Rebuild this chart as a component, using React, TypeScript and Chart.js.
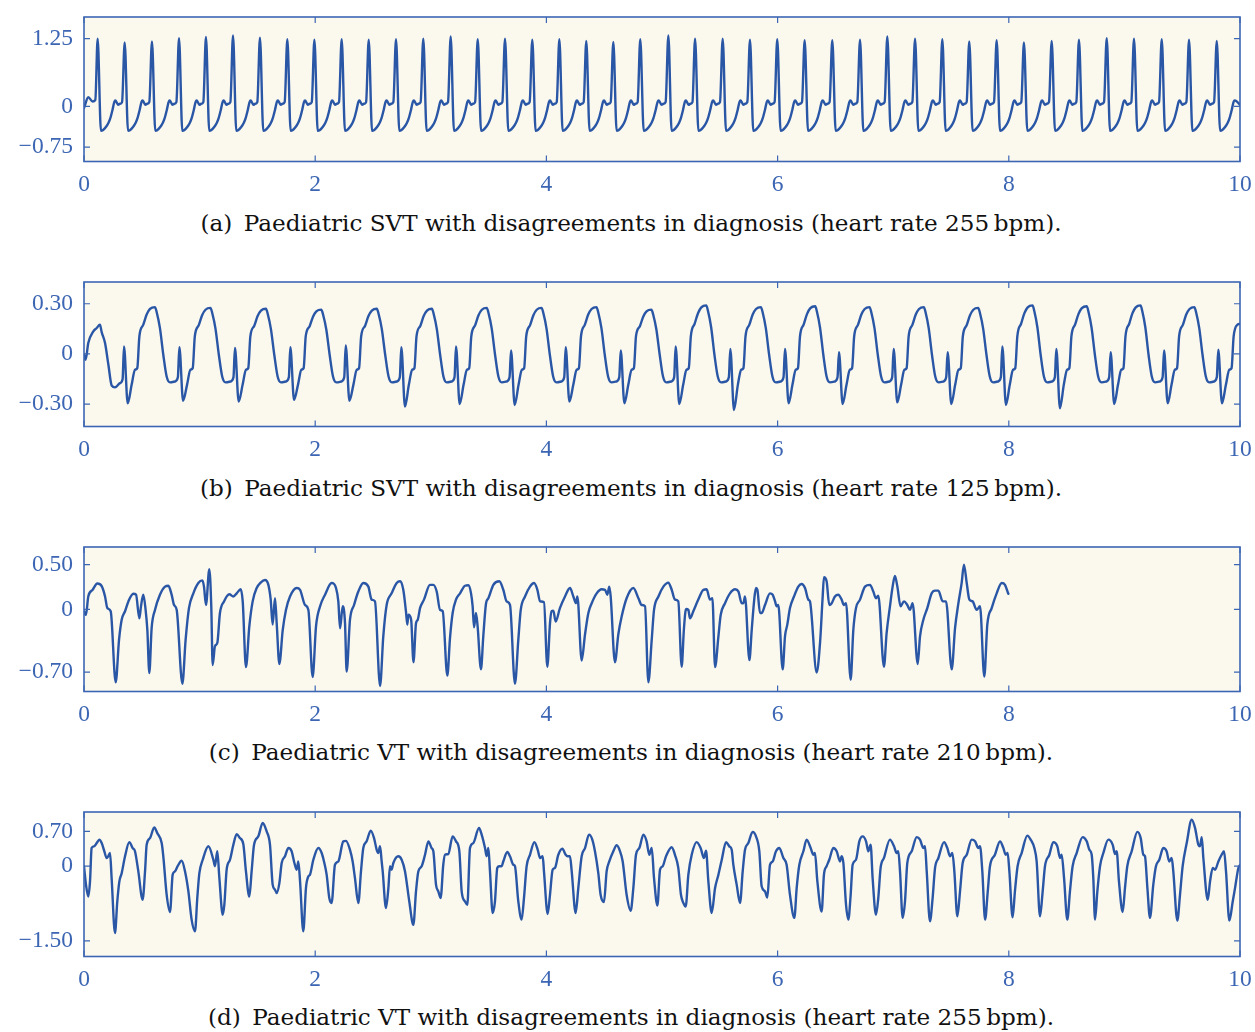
import React, { useEffect, useRef } from "react";
import { Chart, registerables } from "chart.js";
Chart.register(...registerables);

type Pt = [number, number];

const LINE_COLOR = "#2a56a6";
const AXIS_COLOR = "#3c66b3";
const PLOT_BG = "#fbf8ee";

// ---------- Panel (a): paediatric SVT, 255 bpm ----------
const A_SPIKE_T = [0.118, 0.352, 0.588, 0.822, 1.055, 1.289, 1.522, 1.759, 1.993, 2.229, 2.463, 2.699, 2.935, 3.172, 3.406, 3.642, 3.878, 4.112, 4.345, 4.579, 4.812, 5.055, 5.286, 5.525, 5.761, 5.997, 6.234, 6.473, 6.713, 6.949, 7.189, 7.425, 7.658, 7.895, 8.131, 8.371, 8.607, 8.847, 9.083, 9.323, 9.559, 9.799];
const A_SPIKE_Y = [1.25, 1.18, 1.2, 1.26, 1.28, 1.31, 1.27, 1.24, 1.23, 1.24, 1.23, 1.24, 1.25, 1.29, 1.24, 1.25, 1.23, 1.24, 1.21, 1.19, 1.24, 1.31, 1.25, 1.25, 1.23, 1.24, 1.22, 1.22, 1.23, 1.29, 1.25, 1.24, 1.2, 1.22, 1.18, 1.21, 1.23, 1.26, 1.25, 1.24, 1.23, 1.21];
const A_LEAD: Pt[] = [[0, -0.03], [0.037, 0.17], [0.075, 0.09], [0.098, 0.12]];
const A_BEAT: Pt[] = [[0.029, -0.45], [0.045, -0.44], [0.072, -0.38], [0.095, -0.3], [0.11, -0.22], [0.13, -0.06], [0.145, 0.08], [0.155, 0.11], [0.167, 0.07], [0.179, 0.03], [0.195, 0.05], [0.213, 0.08]];
const A_TAIL: Pt[] = [[9.957, 0.11], [10, 0.03]];
const A_PERIOD = 0.236;
const A_Y_TICKS = [-0.75, 0, 1.25];
const A_Y_LABELS = ["\u22120.75", "0", "1.25"];

// ---------- Panel (b): paediatric SVT, 125 bpm ----------
const B_SPIKE_T = [0.346, 0.825, 1.306, 1.785, 2.264, 2.745, 3.218, 3.694, 4.167, 4.643, 5.118, 5.591, 6.064, 6.531, 7.004, 7.471, 7.944, 8.411, 8.881, 9.343, 9.812];
const B_SPIKE_Y = [0.045, 0.04, 0.035, 0.04, 0.05, 0.04, 0.045, 0.02, 0.04, 0.02, 0.045, 0.03, 0.03, 0.01, 0.03, 0.01, 0.045, 0.03, 0.01, 0.02, 0.025];
const B_DIP = [-0.295, -0.28, -0.285, -0.275, -0.28, -0.315, -0.3, -0.305, -0.285, -0.295, -0.3, -0.335, -0.295, -0.3, -0.29, -0.3, -0.305, -0.325, -0.3, -0.295, -0.295];
const B_HUMP = [0.28, 0.275, 0.27, 0.265, 0.27, 0.27, 0.275, 0.275, 0.28, 0.265, 0.29, 0.28, 0.285, 0.28, 0.28, 0.275, 0.29, 0.285, 0.29, 0.28, 0.28];
const B_LEAD: Pt[] = [[0, -0.005], [0.014, -0.035], [0.037, 0.065], [0.081, 0.135], [0.11, 0.155], [0.138, 0.175], [0.153, 0.13], [0.182, 0.065], [0.211, -0.065], [0.24, -0.19], [0.268, -0.2], [0.311, -0.175], [0.334, -0.15]];
// [dt, value, kind]: kind 0 = absolute value, 1 = fraction of dip depth, 2 = fraction of hump height
const B_BEAT: [number, number, number][] = [[0.032, 1, 1], [0.066, -0.185, 0], [0.095, -0.095, 0], [0.115, -0.085, 0], [0.133, 0.105, 0], [0.167, 0.625, 2], [0.196, 0.84, 2], [0.225, 0.96, 2], [0.268, 1, 2], [0.283, 0.89, 2], [0.311, 0.55, 2], [0.34, -0.005, 0], [0.369, -0.135, 0], [0.398, -0.17, 0], [0.441, -0.165, 0], [0.466, -0.14, 0]];
const B_TAIL: Pt[] = [[10, 0.18]];
const B_PERIOD = 0.479;
const B_Y_TICKS = [-0.3, 0, 0.3];
const B_Y_LABELS = ["\u22120.30", "0", "0.30"];

// ---------- Panel (c): paediatric VT, 210 bpm ----------
const C_POINTS: Pt[] = [
  [0, -0.02], [0.017, -0.06], [0.037, 0.145], [0.075, 0.22], [0.115, 0.29], [0.153, 0.26], [0.182, 0.145], [0.202, 0.015], [0.231, -0.02], [0.274, -0.815], [0.303, -0.34], [0.326, -0.115], [0.355, -0.02], [0.384, 0.09], [0.427, 0.175], [0.45, 0.165], [0.479, -0.1], [0.493, 0.035], [0.513, 0.165], [0.533, -0.005], [0.548, -0.23], [0.565, -0.71], [0.585, -0.21], [0.614, -0.005], [0.657, 0.165], [0.701, 0.255], [0.73, 0.265], [0.758, 0.165], [0.779, 0.05], [0.802, -0.005], [0.851, -0.83], [0.879, -0.34], [0.908, 0.015], [0.946, 0.18], [0.989, 0.295], [1.024, 0.325], [1.038, 0.255], [1.055, 0.05], [1.084, 0.45], [1.101, 0.035], [1.113, -0.62], [1.133, -0.41], [1.153, -0.375], [1.176, -0.04], [1.211, 0.09], [1.257, 0.17], [1.292, 0.145], [1.321, 0.18], [1.355, 0.225], [1.373, 0.09], [1.401, -0.645], [1.43, -0.19], [1.459, 0.09], [1.494, 0.24], [1.528, 0.3], [1.566, 0.33], [1.595, 0.275], [1.615, 0.11], [1.632, -0.17], [1.652, 0.125], [1.667, -0.155], [1.69, -0.61], [1.719, -0.23], [1.747, -0.005], [1.782, 0.145], [1.84, 0.24], [1.869, 0.22], [1.912, 0.05], [1.941, -0.005], [1.978, -0.755], [2.007, -0.19], [2.042, 0.035], [2.085, 0.165], [2.142, 0.295], [2.18, 0.24], [2.2, 0.09], [2.215, -0.21], [2.238, 0.035], [2.258, -0.155], [2.272, -0.695], [2.301, -0.115], [2.336, 0.05], [2.373, 0.2], [2.416, 0.295], [2.46, 0.255], [2.488, 0.11], [2.517, 0.09], [2.561, -0.855], [2.589, -0.3], [2.618, 0.05], [2.661, 0.18], [2.705, 0.295], [2.734, 0.315], [2.762, 0.22], [2.785, -0.02], [2.797, -0.17],
  [2.806, -0.06], [2.83, -0.115], [2.85, -0.59], [2.872, -0.155], [2.887, -0.115], [2.907, 0.015], [2.941, 0.11], [2.993, 0.275], [3.022, 0.275], [3.051, 0.2], [3.08, -0.005], [3.103, -0.02], [3.143, -0.74], [3.166, -0.32], [3.189, -0.04], [3.218, 0.11], [3.253, 0.18], [3.296, 0.265], [3.325, 0.27], [3.348, 0.18], [3.362, 0.035], [3.374, -0.2], [3.391, -0.04], [3.405, -0.19], [3.434, -0.67], [3.454, -0.3], [3.478, 0.07], [3.498, 0.125], [3.541, 0.275], [3.593, 0.315], [3.627, 0.22], [3.656, 0.09], [3.685, 0.05], [3.728, -0.83], [3.757, -0.34], [3.778, -0.005], [3.815, 0.145], [3.858, 0.255], [3.893, 0.295], [3.922, 0.22], [3.945, 0.09], [3.979, 0.08], [4.008, -0.64], [4.031, -0.155], [4.045, -0.02], [4.06, -0.015], [4.08, -0.135], [4.117, 0.015], [4.161, 0.145], [4.204, 0.24], [4.233, 0.145], [4.256, 0.07], [4.268, 0.145], [4.305, -0.57], [4.334, -0.28], [4.363, -0.04], [4.392, 0.07], [4.435, 0.18], [4.478, 0.225], [4.507, 0.22], [4.527, 0.165], [4.544, 0.255], [4.556, 0.145], [4.593, -0.59], [4.622, -0.28], [4.651, -0.08], [4.694, 0.125], [4.752, 0.24], [4.796, 0.125], [4.824, 0.05], [4.853, 0.035], [4.882, -0.815], [4.911, -0.34], [4.931, -0.005], [4.969, 0.145], [5.012, 0.255], [5.055, 0.3], [5.084, 0.22], [5.112, 0.11], [5.141, 0.09], [5.17, -0.64], [5.19, -0.21], [5.208, 0.005], [5.228, -0.005], [5.242, -0.1], [5.271, -0.02], [5.314, 0.11], [5.358, 0.22], [5.386, 0.225], [5.415, 0.11], [5.436, 0.125], [5.459, -0.645], [5.488, -0.3], [5.508, -0.06], [5.545, 0.07], [5.588, 0.18], [5.632, 0.225], [5.661, 0.2], [5.69, 0.07], [5.704, 0.07], [5.718, 0.145], [5.756, -0.565], [5.776, -0.23], [5.799, 0.125], [5.813, 0.24], [5.825, 0.22], [5.848, -0.04], [5.862, -0.04], [5.891, 0.05], [5.934, 0.18], [5.957, 0.165], [5.978, 0.09], [5.992, 0.035], [6.006, 0.05], [6.044, -0.67], [6.064, -0.3], [6.084, -0.17], [6.107, 0.015], [6.142, 0.145], [6.179, 0.255], [6.208, 0.285], [6.237, 0.24], [6.266, 0.11], [6.28, 0.09], [6.338, -0.705],
  [6.367, -0.375], [6.39, 0.145], [6.401, 0.36], [6.424, 0.315], [6.447, 0.05], [6.468, 0.07], [6.496, 0.145], [6.525, 0.165], [6.554, 0.11], [6.574, 0.05], [6.592, 0.07], [6.632, -0.785], [6.655, -0.23], [6.678, 0.015], [6.713, 0.11], [6.756, 0.255], [6.799, 0.275], [6.828, 0.2], [6.851, 0.125], [6.871, 0.155], [6.92, -0.64], [6.943, -0.265], [6.972, 0.035], [6.995, 0.255], [7.015, 0.375], [7.036, 0.255], [7.064, 0.035], [7.093, 0.09], [7.122, 0.05], [7.145, -0.005], [7.168, 0.07], [7.212, -0.61], [7.232, -0.3], [7.261, -0.115], [7.295, 0.015], [7.333, 0.18], [7.362, 0.21], [7.391, 0.21], [7.428, 0.09], [7.457, 0.09], [7.506, -0.67], [7.535, -0.21], [7.564, 0.07], [7.592, 0.295], [7.612, 0.5], [7.636, 0.295], [7.659, 0.11], [7.687, 0.09], [7.722, -0.005], [7.751, 0.035], [7.788, -0.75], [7.814, -0.17], [7.852, 0.015], [7.895, 0.18], [7.939, 0.295], [7.967, 0.275], [7.996, 0.175],
];
const C_Y_TICKS = [-0.7, 0, 0.5];
const C_Y_LABELS = ["\u22120.70", "0", "0.50"];

// ---------- Panel (d): paediatric VT, 255 bpm ----------
const D_POINTS: Pt[] = [
  [0, 0], [0.017, -0.37], [0.037, -0.61], [0.052, -0.305], [0.066, 0.365], [0.087, 0.4], [0.11, 0.465], [0.133, 0.535], [0.153, 0.465], [0.176, 0.3], [0.196, 0.165], [0.21, 0.2], [0.225, 0.265], [0.239, -0.24], [0.268, -1.345], [0.288, -0.71], [0.306, -0.305], [0.326, -0.14], [0.355, 0.2], [0.392, 0.485], [0.421, 0.365], [0.441, 0.3], [0.47, -0.105], [0.507, -0.675], [0.528, -0.105], [0.542, 0.43], [0.571, 0.565], [0.608, 0.78], [0.634, 0.665], [0.672, 0.465], [0.686, 0.2], [0.715, -0.57], [0.744, -0.92], [0.767, -0.17], [0.787, -0.105], [0.81, 0], [0.845, 0.11], [0.874, -0.105], [0.903, -0.505], [0.931, -1.075], [0.96, -1.31], [0.98, -0.64], [0.998, -0.14], [1.027, 0.13], [1.076, 0.4], [1.119, 0.13], [1.133, 0], [1.153, 0.3], [1.171, -0.24], [1.2, -0.975], [1.214, -0.775], [1.234, -0.07], [1.263, 0.13], [1.292, 0.43], [1.321, 0.645], [1.349, 0.565], [1.378, 0.445], [1.401, -0.105], [1.43, -0.61], [1.45, -0.105], [1.471, 0.43], [1.508, 0.6], [1.546, 0.87], [1.58, 0.7], [1.609, 0.43], [1.632, -0.37], [1.652, -0.47], [1.667, -0.54], [1.69, -0.34], [1.71, 0.065], [1.739, 0.2], [1.768, 0.365], [1.796, 0.3], [1.82, 0.065], [1.84, -0.07], [1.854, 0.095], [1.869, -0.305], [1.897, -1.31], [1.92, -0.44], [1.941, -0.205], [1.955, -0.17], [1.984, 0.13], [2.027, 0.365], [2.056, 0.265], [2.076, 0.095], [2.099, -0.17], [2.122, -0.64], [2.142, -0.74], [2.171, 0.03], [2.2, 0.095], [2.243, 0.5], [2.266, 0.51], [2.301, 0.33], [2.324, 0.095], [2.344, -0.24], [2.373, -0.74], [2.396, -0.105], [2.416, 0.365], [2.445, 0.5], [2.48, 0.715], [2.509, 0.565], [2.532, 0.33], [2.546, 0.265], [2.561, 0.4], [2.575, 0.095], [2.584, -0.105], [2.612, -0.84], [2.633, -0.44], [2.647, 0], [2.661, -0.07], [2.676, 0.065], [2.719, 0.2], [2.748, 0.13], [2.777, -0.105],
  [2.814, -0.71], [2.849, -1.18], [2.872, -0.505], [2.892, -0.105], [2.921, 0], [2.95, 0.23], [2.979, 0.5], [3.007, 0.365], [3.022, 0.3], [3.045, -0.37], [3.065, -0.505], [3.085, -0.64], [3.108, 0.03], [3.123, 0.23], [3.151, 0.245], [3.189, 0.6], [3.218, 0.5], [3.247, 0.3], [3.267, -0.505], [3.296, -0.71], [3.316, -0.775], [3.339, 0.365], [3.368, 0.465], [3.417, 0.77], [3.44, 0.635], [3.469, 0.365], [3.483, 0.2], [3.498, 0.365], [3.512, -0.105], [3.535, -0.94], [3.555, -0.71], [3.575, -0.035], [3.593, 0], [3.613, 0], [3.627, 0.095], [3.662, 0.285], [3.685, 0.2], [3.714, 0.03], [3.728, 0], [3.757, -0.71], [3.786, -1.075], [3.806, -0.64], [3.829, 0], [3.858, 0.23], [3.896, 0.485], [3.925, 0.33], [3.945, 0.165], [3.968, 0.2], [3.979, -0.105], [4.011, -0.96], [4.031, -0.575], [4.054, -0.07], [4.074, -0.035], [4.103, 0.23], [4.138, 0.35], [4.167, 0.23], [4.184, 0.2], [4.204, 0.2], [4.219, -0.105], [4.253, -0.94], [4.276, -0.44], [4.305, 0.2], [4.334, 0.365], [4.369, 0.635], [4.397, 0.535], [4.42, 0.3], [4.449, -0.14], [4.469, -0.575], [4.498, -0.72], [4.521, -0.105], [4.544, 0.095], [4.579, 0.3], [4.608, 0.42], [4.637, 0.3], [4.66, 0.095], [4.694, -0.575], [4.729, -0.895], [4.752, -0.44], [4.775, 0.23], [4.804, 0.365], [4.839, 0.635], [4.867, 0.5], [4.89, 0.23], [4.911, 0.365], [4.931, -0.24], [4.96, -0.79], [4.983, -0.07], [5.006, 0], [5.035, 0.2], [5.084, 0.38], [5.112, 0.23], [5.141, -0.035], [5.164, -0.575], [5.185, -0.74], [5.205, -0.81], [5.228, -0.17], [5.257, 0.23], [5.3, 0.485], [5.334, 0.365], [5.363, 0.165], [5.381, 0.31], [5.401, -0.305], [5.43, -0.94], [5.459, -0.44], [5.488, -0.17], [5.517, 0.13], [5.554, 0.485], [5.582, 0.4], [5.603, 0.33], [5.617, 0.03], [5.646, -0.37], [5.675, -0.74], [5.698, -0.105], [5.718, 0.33], [5.747, 0.465], [5.784, 0.69], [5.813, 0.6], [5.842, 0.3], [5.862, -0.405], [5.891, -0.505], [5.911, -0.63], [5.934, 0.03], [5.957, 0.095], [5.986, 0.3], [6.015, 0.365], [6.05, 0.165], [6.078, 0.03], [6.107, -0.575], [6.145, -1.04], [6.165, -0.44], [6.188, 0.03], [6.223, 0.3], [6.251, 0.535], [6.286, 0.365], [6.309, 0.23], [6.323, 0.265], [6.344, -0.305],
  [6.381, -0.91], [6.401, -0.17], [6.424, 0], [6.447, 0.13], [6.482, 0.365], [6.511, 0.3], [6.54, 0.095], [6.554, 0.2], [6.569, 0.065], [6.592, -0.775], [6.612, -1.075], [6.632, -0.575], [6.649, 0.03], [6.678, 0.13], [6.707, 0.5], [6.736, 0.6], [6.765, 0.5], [6.785, 0.3], [6.805, 0.43], [6.822, -0.24], [6.851, -0.975], [6.871, -0.64], [6.891, -0.035], [6.92, 0.165], [6.972, 0.535], [7.007, 0.4], [7.03, 0.265], [7.044, 0.3], [7.059, -0.105], [7.082, -1.04], [7.102, -0.71], [7.122, 0.065], [7.16, 0.3], [7.203, 0.585], [7.232, 0.535], [7.261, 0.365], [7.275, 0.4], [7.29, -0.105], [7.318, -1.11], [7.341, -0.64], [7.362, -0.035], [7.391, 0.165], [7.44, 0.485], [7.468, 0.365], [7.491, 0.2], [7.512, 0.265], [7.529, -0.105], [7.555, -1.01], [7.578, -0.505], [7.601, 0.065], [7.636, 0.23], [7.679, 0.535], [7.708, 0.5], [7.737, 0.365], [7.751, 0.4], [7.771, -0.105], [7.795, -1.075], [7.818, -0.505], [7.837, 0], [7.88, 0.23], [7.924, 0.5], [7.953, 0.365], [7.973, 0.23], [7.99, 0.265], [8.005, -0.105], [8.033, -1.03], [8.053, -0.505], [8.076, 0], [8.111, 0.265], [8.16, 0.615], [8.189, 0.535], [8.221, 0.365], [8.241, 0.095], [8.27, -1.01], [8.293, -0.505], [8.313, 0], [8.351, 0.23], [8.385, 0.485], [8.42, 0.4], [8.443, 0.165], [8.457, 0.23], [8.478, -0.24], [8.506, -1.075], [8.529, -0.505], [8.552, 0], [8.587, 0.265], [8.639, 0.585], [8.674, 0.5], [8.697, 0.33], [8.717, 0.23], [8.731, -0.24], [8.746, -1.075], [8.766, -0.505], [8.789, 0], [8.818, 0.265], [8.861, 0.535], [8.899, 0.43], [8.919, 0.245], [8.933, 0.3], [8.953, -0.305], [8.985, -0.92], [9.005, -0.44], [9.025, 0], [9.063, 0.3], [9.112, 0.69], [9.141, 0.565], [9.164, 0.23], [9.178, 0.2], [9.199, -0.44], [9.221, -1.04], [9.25, -0.37], [9.273, 0], [9.302, 0.13], [9.336, 0.365], [9.365, 0.3], [9.388, 0.095], [9.409, 0.165], [9.423, -0.105], [9.458, -1.095], [9.481, -0.575], [9.504, 0], [9.539, 0.465], [9.582, 0.935], [9.611, 0.77], [9.64, 0.43], [9.654, 0.4], [9.669, 0.585], [9.683, 0.165], [9.721, -0.675], [9.741, -0.305], [9.764, -0.035], [9.784, -0.07], [9.813, 0.095], [9.841, 0.23], [9.862, 0.3], [9.879, -0.105], [9.908, -1.095], [9.937, -0.71], [9.957, -0.44], [9.986, -0.035], [10, 0.02],
];
const D_Y_TICKS = [-1.5, 0, 0.7];
const D_Y_LABELS = ["\u22121.50", "0", "0.70"];

const X_TICK_STEP = 2;
const CAPTIONS = [
  "(a)\u2002Paediatric SVT with disagreements in diagnosis (heart rate 255\u2009bpm).",
  "(b)\u2002Paediatric SVT with disagreements in diagnosis (heart rate 125\u2009bpm).",
  "(c)\u2002Paediatric VT with disagreements in diagnosis (heart rate 210\u2009bpm).",
  "(d)\u2002Paediatric VT with disagreements in diagnosis (heart rate 255\u2009bpm).",
];

function buildA(): Pt[] {
  const pts: Pt[] = [...A_LEAD];
  const tailStart = A_TAIL[0][0];
  A_SPIKE_T.forEach((t0, k) => {
    const last = k === A_SPIKE_T.length - 1;
    const s = last ? 1 : (A_SPIKE_T[k + 1] - t0) / A_PERIOD;
    pts.push([t0, A_SPIKE_Y[k]]);
    for (const [dt, y] of A_BEAT) {
      const t = t0 + dt * s;
      if (last && t >= tailStart) break;
      pts.push([t, y]);
    }
  });
  return pts.concat(A_TAIL);
}

function buildB(): Pt[] {
  const pts: Pt[] = [...B_LEAD];
  const tailStart = B_TAIL[0][0];
  B_SPIKE_T.forEach((t0, k) => {
    const last = k === B_SPIKE_T.length - 1;
    const s = last ? 1 : (B_SPIKE_T[k + 1] - t0) / B_PERIOD;
    pts.push([t0, B_SPIKE_Y[k]]);
    for (const [dt, v, kind] of B_BEAT) {
      const t = t0 + dt * s;
      if (last && t >= tailStart) break;
      const y = kind === 1 ? B_DIP[k] * v : kind === 2 ? B_HUMP[k] * v : v;
      pts.push([t, y]);
    }
  });
  return pts.concat(B_TAIL);
}

type PanelCfg = {
  points: Pt[];
  yMin: number;
  yMax: number;
  yTicks: number[];
  yLabels: string[];
};

const TICK_FONT = { family: "'Liberation Serif', serif", size: 23.5 };
const AREA = { left: 84, right: 1240, top: 17, bottom: 161.5 };

function zeroPad(s: any) {
  s.paddingTop = 0;
  s.paddingBottom = 0;
  s.paddingLeft = 0;
  s.paddingRight = 0;
}

function Panel({ cfg, top }: { cfg: PanelCfg; top: number }) {
  const ref = useRef<HTMLCanvasElement | null>(null);
  useEffect(() => {
    const framePlugin = {
      id: "framePlugin",
      beforeDraw(chart: any) {
        const { ctx, chartArea: a } = chart;
        ctx.save();
        ctx.fillStyle = PLOT_BG;
        ctx.fillRect(a.left, a.top, a.right - a.left, a.bottom - a.top);
        ctx.restore();
      },
      afterDraw(chart: any) {
        const { ctx, chartArea: a, scales } = chart;
        ctx.save();
        ctx.strokeStyle = AXIS_COLOR;
        ctx.lineWidth = 1.6;
        ctx.strokeRect(a.left, a.top, a.right - a.left, a.bottom - a.top);
        ctx.lineWidth = 1.2;
        ctx.beginPath();
        const L = 6;
        for (const t of scales.y.ticks) {
          const py = scales.y.getPixelForValue(t.value);
          ctx.moveTo(a.left, py);
          ctx.lineTo(a.left + L, py);
          ctx.moveTo(a.right, py);
          ctx.lineTo(a.right - L, py);
        }
        for (const t of scales.x.ticks) {
          const px = scales.x.getPixelForValue(t.value);
          ctx.moveTo(px, a.bottom);
          ctx.lineTo(px, a.bottom - L);
          ctx.moveTo(px, a.top);
          ctx.lineTo(px, a.top + L);
        }
        ctx.stroke();
        ctx.restore();
      },
    };
    const chart: any = new Chart(ref.current as HTMLCanvasElement, {
      type: "line",
      data: {
        datasets: [
          {
            data: cfg.points.map(([x, y]) => ({ x, y })),
            borderColor: LINE_COLOR,
            borderWidth: 2.4,
            pointRadius: 0,
            cubicInterpolationMode: "monotone",
            fill: false,
            borderJoinStyle: "round",
            borderCapStyle: "round",
          } as any,
        ],
      },
      options: {
        animation: false,
        responsive: false,
        events: [],
        layout: { autoPadding: false, padding: { top: AREA.top, right: 1255 - AREA.right, left: 0, bottom: 0 } },
        plugins: { legend: { display: false }, tooltip: { enabled: false } },
        scales: {
          x: {
            type: "linear",
            min: 0,
            max: 10,
            bounds: "data",
            grid: { display: false, drawTicks: false },
            border: { display: false },
            ticks: { stepSize: X_TICK_STEP, padding: 9, color: AXIS_COLOR, font: TICK_FONT, maxRotation: 0, autoSkip: false, callback: (v: any) => String(v) },
            afterFit: (s: any) => { s.height = 200 - AREA.bottom; zeroPad(s); },
          },
          y: {
            type: "linear",
            min: cfg.yMin,
            max: cfg.yMax,
            bounds: "data",
            grid: { display: false, drawTicks: false },
            border: { display: false },
            ticks: { padding: 11, color: AXIS_COLOR, font: TICK_FONT, autoSkip: false, callback: (_v: any, i: number) => cfg.yLabels[i] },
            afterBuildTicks: (s: any) => { s.ticks = cfg.yTicks.map((v) => ({ value: v })); },
            afterFit: (s: any) => { s.width = AREA.left; zeroPad(s); },
          },
        },
      } as any,
      plugins: [framePlugin],
    });
    // correct any extra layout offset so the plot box sits exactly where intended
    for (let k = 0; k < 2; k++) {
      const a = chart.chartArea;
      const pad = chart.options.layout.padding;
      const dTop = a.top - AREA.top;
      const dRight = AREA.right - a.right;
      const dBottom = a.bottom - AREA.bottom;
      if (Math.abs(dTop) < 0.3 && Math.abs(dRight) < 0.3 && Math.abs(dBottom) < 0.3) break;
      pad.top = pad.top - dTop;
      pad.right = pad.right - dRight;
      pad.bottom = (pad.bottom || 0) + dBottom;
      chart.update();
    }
    return () => chart.destroy();
  }, [cfg]);
  return (
    <canvas
      ref={ref}
      width={1255}
      height={200}
      style={{ position: "absolute", left: 0, top, width: 1255, height: 200, display: "block" }}
    />
  );
}

const PANELS: PanelCfg[] = [
  { points: buildA(), yMin: -1.016, yMax: 1.65, yTicks: A_Y_TICKS, yLabels: A_Y_LABELS },
  { points: buildB(), yMin: -0.434, yMax: 0.43, yTicks: B_Y_TICKS, yLabels: B_Y_LABELS },
  { points: C_POINTS, yMin: -0.917, yMax: 0.698, yTicks: C_Y_TICKS, yLabels: C_Y_LABELS },
  { points: D_POINTS, yMin: -1.816, yMax: 1.09, yTicks: D_Y_TICKS, yLabels: D_Y_LABELS },
];

const PANEL_TOPS = [0, 265, 530, 795];
const CAPTION_CENTERS = [223, 488, 752, 1017];

export default function App() {
  return (
    <div style={{ position: "absolute", left: 0, top: 0, width: 1255, height: 1032, background: "#ffffff", overflow: "hidden" }}>
      {PANELS.map((cfg, i) => (
        <Panel key={i} cfg={cfg} top={PANEL_TOPS[i]} />
      ))}
      {CAPTIONS.map((c, i) => (
        <div
          key={"c" + i}
          style={{
            position: "absolute",
            left: 0,
            width: 1262,
            top: CAPTION_CENTERS[i] - 15,
            height: 30,
            lineHeight: "30px",
            textAlign: "center",
            fontFamily: "'DejaVu Serif', serif",
            fontSize: 23.1,
            color: "#111111",
            whiteSpace: "nowrap",
          }}
        >
          {c}
        </div>
      ))}
    </div>
  );
}
